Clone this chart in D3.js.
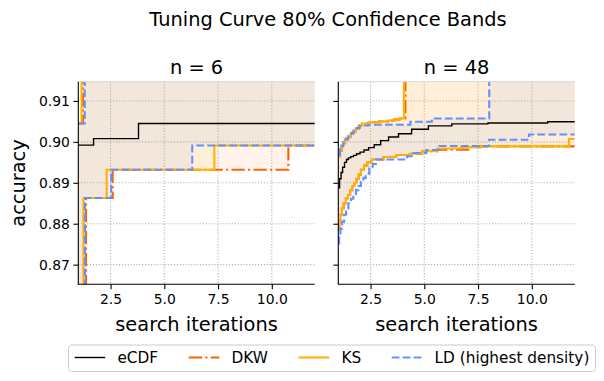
<!DOCTYPE html>
<html>
<head>
<meta charset="utf-8">
<script src="https://cdn.jsdelivr.net/npm/d3@7"></script>
<style>
body { margin: 0; background: #fff; }
svg { font-family: "DejaVu Sans", sans-serif; }
</style>
</head>
<body>
<svg id="chart" width="604" height="381"></svg>
<script>
// ---- data ----
const xTicks = [2.5, 5.0, 7.5, 10.0];
const yTicks = [0.87, 0.88, 0.89, 0.90, 0.91];
const xDomain = [1, 12];
const yDomain = [0.8652, 0.9147];
const TOP = 0.95, BOTTOM = 0.85;   // band runs off the chart

const panelTitles = ["n = 6", "n = 48"];
const seriesNames = ["eCDF", "DKW", "KS", "LD (highest density)"];
const seriesColors = ["#000000", "#fe6100", "#ffb000", "#648fff"];

// n = 6   (each point: [search iterations, accuracy], step after)
const ecdf6 = [[1, 0.8992], [1.71, 0.9008], [3.80, 0.9045]];
const dkwLower6 = [[1, BOTTOM], [1.36, 0.8863], [2.60, 0.8932], [10.77, 0.8991]];
const dkwUpper6 = [[1, 0.9045], [1.22, TOP]];
const ksLower6 = [[1, BOTTOM], [1.24, 0.8863], [2.32, 0.8932], [7.33, 0.8991]];
const ksUpper6 = [[1, 0.9045], [1.15, TOP]];
const ldLower6 = [[1, BOTTOM], [1.31, 0.8863], [2.53, 0.8932], [6.30, 0.8991]];
const ldUpper6 = [[1, 0.9045], [1.30, TOP]];

// n = 48
const ecdf48 = [[1, 0.8888], [1.06, 0.8910], [1.13, 0.8925], [1.20, 0.8938], [1.29, 0.8950],
    [1.38, 0.8957], [1.47, 0.8961], [1.58, 0.8964], [1.71, 0.8967], [1.85, 0.8971],
    [2.01, 0.8975], [2.20, 0.8980], [2.41, 0.8986], [2.67, 0.8993], [2.97, 0.9003],
    [3.34, 0.9012], [3.80, 0.9020], [4.41, 0.9031], [5.19, 0.9039], [6.28, 0.9044],
    [7.96, 0.9046], [10.74, 0.9049]];
const ksUpper48 = [[1, 0.8965], [1.08, 0.8978], [1.15, 0.8988], [1.22, 0.8996], [1.32, 0.9005],
    [1.45, 0.9012], [1.58, 0.9019], [1.70, 0.9025], [1.82, 0.9032], [1.95, 0.9039],
    [2.10, 0.9045], [2.40, 0.9048], [2.90, 0.9050], [3.30, 0.9052], [3.60, 0.9055],
    [3.85, 0.9057], [4.05, TOP]];
const dkwUpper48 = [[1, 0.8965], [1.08, 0.8978], [1.15, 0.8988], [1.22, 0.8996], [1.32, 0.9005],
    [1.45, 0.9012], [1.58, 0.9019], [1.70, 0.9025], [1.82, 0.9032], [1.95, 0.9039],
    [2.10, 0.9045], [2.40, 0.9048], [2.90, 0.9050], [3.30, 0.9052], [3.60, 0.9055],
    [3.85, 0.9057], [4.12, TOP]];
const ldUpper48 = [[1, 0.8968], [1.08, 0.8982], [1.15, 0.8991], [1.24, 0.9000], [1.35, 0.9008],
    [1.47, 0.9015], [1.60, 0.9022], [1.72, 0.9028], [1.85, 0.9034], [2.00, 0.9040],
    [2.40, 0.9042], [4.35, 0.9049], [5.35, 0.9057], [8.02, TOP]];
const ksLower48 = [[1, 0.8785], [1.05, 0.8805], [1.10, 0.8822], [1.17, 0.8838], [1.25, 0.8850],
    [1.35, 0.8862], [1.45, 0.8870], [1.55, 0.8882], [1.65, 0.8892], [1.75, 0.8900],
    [1.85, 0.8910], [1.95, 0.8920], [2.05, 0.8932], [2.20, 0.8942], [2.35, 0.8950],
    [2.55, 0.8957], [3.10, 0.8963], [3.70, 0.8968], [4.30, 0.8971], [4.90, 0.8977],
    [5.60, 0.8984], [6.70, 0.8987], [7.50, 0.8989], [11.73, 0.9007]];
const dkwLower48 = [[1, 0.8785], [1.05, 0.8805], [1.10, 0.8822], [1.17, 0.8838], [1.25, 0.8850],
    [1.35, 0.8862], [1.45, 0.8870], [1.55, 0.8882], [1.65, 0.8892], [1.75, 0.8900],
    [1.85, 0.8910], [1.95, 0.8920], [2.05, 0.8932], [2.20, 0.8942], [2.35, 0.8950],
    [2.55, 0.8957], [3.10, 0.8963], [3.70, 0.8968], [4.30, 0.8971], [4.90, 0.8977],
    [5.60, 0.8981], [7.05, 0.8987], [7.60, 0.8989]];
const ldLower48 = [[1, 0.8752], [1.04, 0.8770], [1.10, 0.8788], [1.18, 0.8805], [1.27, 0.8822],
    [1.36, 0.8837], [1.47, 0.8850], [1.59, 0.8861], [1.70, 0.8872], [1.82, 0.8882],
    [1.94, 0.8892], [2.05, 0.8902], [2.17, 0.8912], [2.28, 0.8922], [2.44, 0.8935],
    [2.60, 0.8946], [2.75, 0.8957], [4.20, 0.8965], [4.50, 0.8973], [5.10, 0.8980],
    [5.70, 0.8990], [8.02, 0.9005], [9.87, 0.9018]];

const panels = [
    {ecdf: ecdf6, bands: [[dkwLower6, dkwUpper6], [ksLower6, ksUpper6], [ldLower6, ldUpper6]]},
    {ecdf: ecdf48, bands: [[dkwLower48, dkwUpper48], [ksLower48, ksUpper48], [ldLower48, ldUpper48]]}
];

// ---- layout ----
const plotTop = 81.7, plotBottom = 284.3;
const plotLefts = [78.3, 338.3];
const plotWidth = 236.5;
const lineWidth = 2.08;
const dashes = [null, "13.3,3.3,2.1,3.3", null, "7.7,3.3"];

let svg = d3.select("#chart");

let stepAt = (s, k) => {
    let v = s[0][1];
    for (let [kk, y] of s) if (kk <= k) v = y;
    return v;
};

let bandPoints = (lo, hi) => {
    let ks = Array.from(new Set([...lo.map(d => d[0]), ...hi.map(d => d[0]), xDomain[1]]))
        .sort((a, b) => a - b);
    return ks.map(k => ({k: k, lo: stepAt(lo, k), hi: stepAt(hi, k)}));
};

let linePoints = (s) => [...s, [xDomain[1], s[s.length - 1][1]]];

function drawPanel(i) {
    let left = plotLefts[i];
    let data = panels[i];

    let scX = d3.scaleLinear().domain(xDomain).range([left, left + plotWidth]);
    let scY = d3.scaleLinear().domain(yDomain).range([plotBottom, plotTop]);

    svg.append("clipPath").attr("id", "clip" + i)
        .append("rect")
        .attr("x", left).attr("y", plotTop)
        .attr("width", plotWidth).attr("height", plotBottom - plotTop);

    let g = svg.append("g");
    let inner = g.append("g").attr("clip-path", `url(#clip${i})`);

    // bands
    let area = d3.area()
        .curve(d3.curveStepAfter)
        .x(d => scX(d.k))
        .y0(d => scY(d.lo))
        .y1(d => scY(d.hi));

    data.bands.forEach((b, j) => {
        inner.append("path")
            .attr("d", area(bandPoints(b[0], b[1])))
            .attr("fill", seriesColors[j + 1])
            .attr("fill-opacity", 0.08);
    });

    // grid
    inner.selectAll(".gx").data(xTicks).enter().append("line")
        .attr("x1", d => scX(d)).attr("x2", d => scX(d))
        .attr("y1", plotTop).attr("y2", plotBottom);
    inner.selectAll(".gy").data(yTicks).enter().append("line")
        .attr("y1", d => scY(d)).attr("y2", d => scY(d))
        .attr("x1", left).attr("x2", left + plotWidth);
    inner.selectAll("line")
        .attr("stroke", "#b0b0b0")
        .attr("stroke-width", 1.1)
        .attr("stroke-dasharray", "1.1,1.8");

    let line = d3.line()
        .curve(d3.curveStepAfter)
        .x(d => scX(d[0]))
        .y(d => scY(d[1]));

    inner.append("path")
        .attr("d", line(linePoints(data.ecdf)))
        .attr("fill", "none")
        .attr("stroke", "#000")
        .attr("stroke-width", 1.4);

    data.bands.forEach((b, j) => {
        b.forEach(s => {
            inner.append("path")
                .attr("d", line(linePoints(s)))
                .attr("fill", "none")
                .attr("stroke", seriesColors[j + 1])
                .attr("stroke-width", lineWidth)
                .attr("stroke-dasharray", dashes[j + 1]);
        });
    });

    // axes
    let axisX = d3.axisBottom(scX).tickValues(xTicks).tickFormat(d3.format(".1f"))
        .tickSize(4.9).tickPadding(5);
    let axisY = d3.axisLeft(scY).tickValues(yTicks).tickFormat(d3.format(".2f"))
        .tickSize(4.9).tickPadding(3.5);
    if (i > 0) axisY.tickFormat("");

    let gx = g.append("g").attr("transform", `translate(0, ${plotBottom})`).call(axisX);
    let gy = g.append("g").attr("transform", `translate(${left}, 0)`).call(axisY);
    [gx, gy].forEach(a => {
        a.select(".domain").remove();
        a.selectAll("line").attr("stroke", "#000").attr("stroke-width", 1.1);
        a.selectAll("text").attr("font-size", 13.9).attr("fill", "#000")
            .attr("font-family", "DejaVu Sans");
    });

    // spines
    g.append("line").attr("x1", left).attr("x2", left + plotWidth)
        .attr("y1", plotTop).attr("y2", plotTop)
        .attr("stroke", "#d8d8d8").attr("stroke-width", 1);
    g.append("line").attr("x1", left).attr("x2", left)
        .attr("y1", plotTop).attr("y2", plotBottom)
        .attr("stroke", "#000").attr("stroke-width", 1.1);
    g.append("line").attr("x1", left - 0.5).attr("x2", left + plotWidth)
        .attr("y1", plotBottom).attr("y2", plotBottom)
        .attr("stroke", "#000").attr("stroke-width", 1.1);

    g.append("text")
        .attr("x", left + plotWidth / 2).attr("y", 74)
        .attr("text-anchor", "middle").attr("font-size", 19.4)
        .text(panelTitles[i]);

    g.append("text")
        .attr("x", left + plotWidth / 2).attr("y", 331)
        .attr("text-anchor", "middle").attr("font-size", 19.4)
        .text("search iterations");
}

drawPanel(0);
drawPanel(1);

svg.append("text")
    .attr("x", 328).attr("y", 26)
    .attr("text-anchor", "middle").attr("font-size", 19.4)
    .text("Tuning Curve 80% Confidence Bands");

svg.append("text")
    .attr("transform", `translate(25, ${(plotTop + plotBottom) / 2}) rotate(-90)`)
    .attr("text-anchor", "middle").attr("font-size", 19.4)
    .text("accuracy");

// legend
const fs = 15.3;
let legend = svg.append("g");
let box = legend.append("rect")
    .attr("y", 345).attr("height", 26.5)
    .attr("rx", 3)
    .attr("fill", "#fff").attr("fill-opacity", 0.8)
    .attr("stroke", "#cccccc").attr("stroke-width", 1);

let legendLeft = 68.5;
let cx = legendLeft + 0.4 * fs;
const ly = 357.5;
seriesNames.forEach((name, j) => {
    legend.append("line")
        .attr("x1", cx).attr("x2", cx + 2 * fs)
        .attr("y1", ly).attr("y2", ly)
        .attr("stroke", seriesColors[j])
        .attr("stroke-width", j == 0 ? 1.4 : lineWidth)
        .attr("stroke-dasharray", dashes[j]);
    let t = legend.append("text")
        .attr("x", cx + 2.8 * fs).attr("y", ly + 5.3)
        .attr("font-size", fs)
        .text(name);
    cx += 2.8 * fs + t.node().getComputedTextLength() + 2 * fs;
});
box.attr("x", legendLeft).attr("width", cx - 2 * fs + 0.4 * fs - legendLeft);
</script>
</body>
</html>
